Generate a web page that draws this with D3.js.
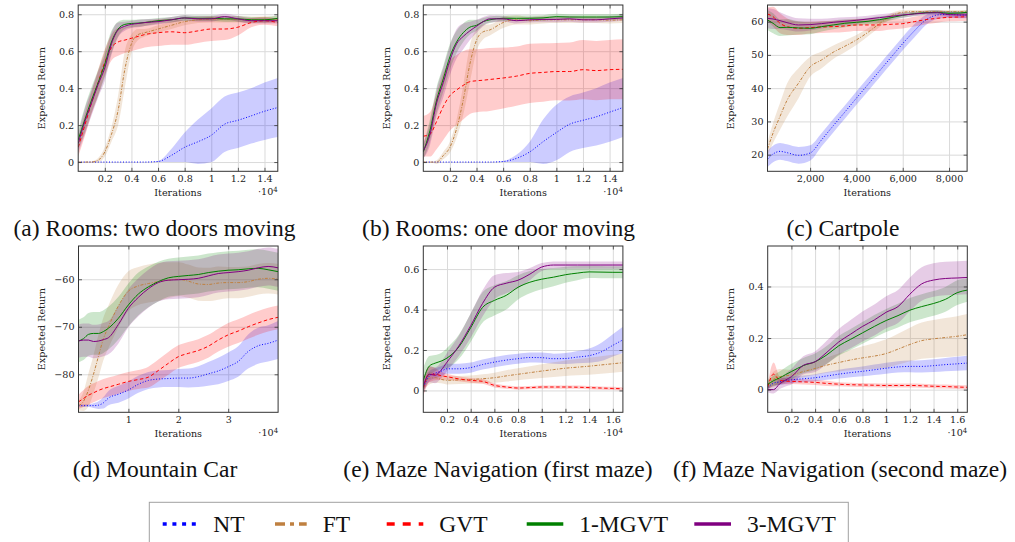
<!DOCTYPE html>
<html>
<head>
<meta charset="utf-8">
<script src="https://cdn.jsdelivr.net/npm/d3@7"></script>
<style>
body { margin: 0; background: #fff; }
svg { display: block; }
.tick text { font-family: "DejaVu Serif", serif; font-size: 9.6px; fill: #222; }
</style>
</head>
<body>
<svg id="chart" width="1015" height="542"></svg>
<script>
// series shared by all panels
const seriesNames = ['NT', 'FT', 'GVT', '1-MGVT', '3-MGVT'];

// (a) and (b): x in units of 1e4 iterations
const roomsX = [0, 0.05, 0.1, 0.15, 0.2, 0.25, 0.3, 0.35, 0.4, 0.45, 0.5, 0.6, 0.7, 0.8, 0.9, 1.0, 1.1, 1.2, 1.3, 1.4, 1.5];

const aNT = [0,0,0,0,0,0,0,0,0,0,0,0.003,0.036,0.08,0.11,0.145,0.205,0.226,0.25,0.275,0.295];
const aNTsd = [0,0,0,0,0,0,0,0,0,0,0,0.003,0.035,0.08,0.12,0.145,0.15,0.15,0.15,0.155,0.16];
const aFT = [0,0,0,0.01,0.055,0.15,0.28,0.5,0.64,0.69,0.70,0.72,0.74,0.76,0.77,0.773,0.773,0.773,0.77,0.77,0.773];
const aFTsd = [0,0,0.004,0.012,0.025,0.04,0.08,0.1,0.05,0.03,0.02,0.02,0.02,0.02,0.018,0.018,0.018,0.018,0.018,0.018,0.018];
const aGVT = [0.08,0.2,0.32,0.43,0.54,0.62,0.65,0.66,0.67,0.68,0.69,0.70,0.705,0.70,0.71,0.72,0.72,0.73,0.755,0.765,0.755];
const aGVTsd = [0.05,0.06,0.06,0.07,0.07,0.07,0.075,0.07,0.07,0.07,0.07,0.072,0.07,0.065,0.065,0.065,0.06,0.045,0.025,0.022,0.02];
const a1M = [0.12,0.23,0.335,0.43,0.53,0.65,0.72,0.745,0.75,0.752,0.755,0.765,0.77,0.78,0.778,0.778,0.775,0.775,0.77,0.77,0.778];
const a1Msd = [0.05,0.07,0.07,0.07,0.07,0.06,0.04,0.025,0.02,0.02,0.018,0.015,0.015,0.015,0.015,0.015,0.015,0.015,0.015,0.015,0.015];
const a3M = [0.10,0.22,0.32,0.42,0.51,0.64,0.715,0.735,0.745,0.75,0.755,0.76,0.77,0.78,0.775,0.775,0.787,0.775,0.765,0.765,0.765];
const a3Msd = [0.05,0.07,0.07,0.07,0.07,0.06,0.04,0.025,0.02,0.02,0.018,0.015,0.015,0.015,0.015,0.015,0.015,0.015,0.015,0.015,0.015];

const bNT = [0,0,0,0,0,0,0,0,0,0,0,0.003,0.02,0.055,0.11,0.16,0.205,0.226,0.245,0.27,0.295];
const bNTsd = [0,0,0,0,0,0,0,0,0,0,0,0.003,0.02,0.055,0.12,0.15,0.15,0.15,0.155,0.16,0.16];
const bFT = [0,0,0,0.035,0.08,0.18,0.335,0.53,0.66,0.705,0.715,0.755,0.77,0.765,0.77,0.77,0.77,0.77,0.77,0.768,0.77];
const bFTsd = [0,0,0.01,0.02,0.03,0.05,0.08,0.1,0.06,0.04,0.03,0.03,0.025,0.02,0.02,0.018,0.018,0.018,0.018,0.018,0.018];
const bGVT = [0.14,0.15,0.22,0.3,0.36,0.39,0.415,0.435,0.44,0.443,0.447,0.455,0.465,0.48,0.485,0.49,0.49,0.5,0.495,0.5,0.502];
const bGVTsd = [0.11,0.12,0.15,0.18,0.19,0.19,0.185,0.175,0.17,0.17,0.17,0.165,0.16,0.16,0.158,0.155,0.157,0.16,0.16,0.16,0.162];
const b1M = [0.055,0.17,0.335,0.45,0.57,0.65,0.70,0.73,0.74,0.76,0.77,0.778,0.778,0.778,0.78,0.787,0.785,0.785,0.785,0.785,0.787];
const b1Msd = [0.04,0.06,0.07,0.07,0.07,0.06,0.05,0.04,0.03,0.02,0.018,0.015,0.015,0.015,0.015,0.015,0.015,0.015,0.015,0.015,0.015];
const b3M = [0.06,0.15,0.32,0.43,0.55,0.64,0.68,0.71,0.735,0.76,0.775,0.775,0.765,0.77,0.772,0.772,0.775,0.77,0.77,0.775,0.78];
const b3Msd = [0.04,0.06,0.07,0.08,0.08,0.08,0.07,0.05,0.035,0.025,0.02,0.015,0.015,0.015,0.015,0.015,0.015,0.015,0.015,0.015,0.015];

// (c) Cartpole: raw iterations
const cartX = [160, 400, 700, 1000, 1500, 2000, 2500, 3000, 3500, 4000, 4500, 5000, 5500, 6000, 6500, 7000, 7500, 8000, 8500, 8780];
const cNT = [18.7,20.2,21.0,20.6,19.8,20.5,24.5,28.7,32.8,37.0,41.1,45.2,49.3,53.4,57.2,60.5,62.0,62.2,62.0,62.0];
const cNTsd = [2.5,2.5,2.5,2.5,2.5,2.3,2,2,2,2,2,2,2,2,2,1.5,1.2,1,1,1];
const cFT = [21.7,26.5,31.5,36.3,41.5,46.4,48.5,50.8,52.6,54.5,56.8,59.4,61.7,62.8,63.0,63.0,63.0,63.0,63.0,63.0];
const cFTsd = [2,3,4,5,4.5,3,2.5,2,1.8,1.5,1.2,1,0.8,0.6,0.5,0.5,0.5,0.5,0.5,0.5];
const cGVT = [62.3,61.5,59.5,58.5,58.0,58.2,58.4,58.5,58.7,59,59,59,59.2,59.4,60,60.6,61,61.3,61.4,61.5];
const cGVTsd = [2,3,3,2.5,2,1.8,1.8,1.8,1.8,1.8,1.8,1.8,1.6,1.5,1.5,1.4,1.3,1.2,1.2,1.2];
const c1M = [60.5,59.5,58.2,58.3,58.1,58,58.5,59,59.5,59.8,60.1,60.6,61.2,61.9,62.4,62.7,62.8,62.5,62.6,62.8];
const c1Msd = [3,3,2.5,2.5,2,1.8,1.5,1.3,1.2,1,1,1,0.8,0.7,0.6,0.6,0.6,0.6,0.6,0.6];
const c3M = [61,60.8,60.3,59.7,59,59.1,59.4,59.8,60.1,60.4,60.8,61.2,61.6,62,62.3,62.6,62.7,62.1,62,62];
const c3Msd = [3,3,2.5,2.2,2,1.8,1.5,1.3,1.2,1.1,1,1,0.9,0.8,0.7,0.7,0.7,0.8,0.9,0.9];

// (d) Mountain Car: x in units of 1e4
const mcarX = [0, 0.1, 0.2, 0.3, 0.4, 0.5, 0.6, 0.8, 1.0, 1.2, 1.4, 1.6, 1.8, 2.0, 2.2, 2.4, 2.6, 2.8, 3.0, 3.2, 3.4, 3.6, 3.8, 4.0];
const dNT = [-86.6,-86.6,-86.6,-86.6,-86.5,-86,-85,-84.2,-83.3,-82.1,-81.3,-81,-80.9,-80.8,-80.8,-80.5,-79.9,-79.3,-78.4,-77.3,-75.2,-74,-73.5,-72.8];
const dNTsd = [0.3,0.3,0.3,0.5,0.8,1.2,1.5,1.8,1.8,1.8,1.8,1.8,1.8,1.9,2,2.2,2.5,2.8,3,3.2,3.6,3.8,3.8,4];
const dFT = [-86.6,-85.7,-83.3,-80,-76.2,-72.5,-70,-65.6,-62.5,-61.4,-60.9,-60.5,-60.2,-60,-60.4,-61,-61.1,-60.8,-60.7,-60.7,-60.5,-60,-59.8,-60];
const dFTsd = [1,2,3.5,4,4.5,4.5,4.5,4.5,4.2,4,4,4,3.8,3.6,3.5,3.5,3.5,3.5,3.3,3.3,3.2,3.2,3.2,3.2];
const dGVT = [-85.8,-85.1,-84.4,-83.9,-83.4,-83,-82.7,-82.1,-81.5,-81.1,-80.6,-79.2,-77.7,-76.3,-75.6,-75,-74.1,-72.8,-71.7,-70.9,-70,-69.2,-68.5,-68];
const dGVTsd = [1.5,1.8,2,2,2,2,2,2,2,2,2.2,2.3,2.4,2.4,2.4,2.4,2.4,2.4,2.5,2.5,2.5,2.5,2.5,2.5];
const d1M = [-73,-72.5,-71.6,-71.4,-71.4,-71,-70.3,-68.2,-65.4,-63.1,-61.6,-60.5,-59.7,-59.4,-59.2,-59,-58.6,-58.3,-58.1,-58,-57.8,-57.7,-58,-58.4];
const d1Msd = [4.5,4.5,4.5,4.5,4.5,4.5,4.5,4.5,4.5,4.5,4.3,4.2,4,4,4,4,4,4,4,4,4,4,4,4];
const d3M = [-73,-72.8,-72.8,-73.1,-73,-72.7,-72.3,-69.5,-66.1,-63.8,-62,-60.7,-60.2,-60.1,-60,-59.8,-59.3,-58.8,-58.6,-58.4,-58.1,-57.6,-57.3,-57.6];
const d3Msd = [3.5,3.5,3.5,3.5,3.5,3.5,3.5,4,4,4,4,4,4,4,4,4,4,4,4,4,4,4,4,4];

// (e) and (f): x in units of 1e4
const mazeX = [0, 0.05, 0.1, 0.15, 0.2, 0.3, 0.4, 0.5, 0.6, 0.7, 0.8, 0.9, 1.0, 1.1, 1.2, 1.3, 1.4, 1.5, 1.6, 1.685];
const eNT = [0.017,0.07,0.085,0.095,0.107,0.107,0.113,0.128,0.14,0.15,0.157,0.163,0.162,0.157,0.158,0.165,0.172,0.19,0.223,0.25];
const eNTsd = [0.02,0.025,0.025,0.025,0.025,0.025,0.025,0.025,0.025,0.025,0.025,0.025,0.025,0.025,0.027,0.03,0.035,0.045,0.055,0.065];
const eFT = [0.03,0.06,0.063,0.055,0.05,0.052,0.054,0.058,0.063,0.072,0.08,0.088,0.096,0.103,0.11,0.115,0.12,0.126,0.132,0.137];
const eFTsd = [0.03,0.03,0.025,0.02,0.02,0.02,0.02,0.022,0.025,0.028,0.03,0.032,0.034,0.036,0.038,0.04,0.042,0.043,0.044,0.045];
const eGVT = [0.01,0.08,0.08,0.073,0.068,0.057,0.05,0.045,0.025,0.017,0.012,0.014,0.017,0.017,0.017,0.016,0.014,0.012,0.01,0.008];
const eGVTsd = [0.04,0.04,0.03,0.02,0.015,0.012,0.012,0.012,0.01,0.008,0.008,0.008,0.008,0.008,0.008,0.008,0.008,0.008,0.008,0.008];
const e1M = [0.05,0.12,0.135,0.145,0.16,0.215,0.31,0.41,0.445,0.47,0.51,0.535,0.55,0.56,0.572,0.58,0.586,0.585,0.584,0.584];
const e1Msd = [0.06,0.05,0.04,0.04,0.05,0.06,0.07,0.075,0.075,0.07,0.06,0.055,0.05,0.045,0.04,0.035,0.03,0.03,0.03,0.03];
const e3M = [0.02,0.08,0.075,0.1,0.14,0.22,0.32,0.43,0.51,0.53,0.545,0.575,0.61,0.62,0.62,0.62,0.62,0.62,0.62,0.62];
const e3Msd = [0.04,0.04,0.04,0.04,0.045,0.05,0.06,0.065,0.06,0.05,0.04,0.03,0.02,0.018,0.018,0.018,0.018,0.018,0.018,0.018];

const fNT = [0.008,0.025,0.03,0.035,0.038,0.042,0.046,0.053,0.06,0.066,0.071,0.077,0.083,0.088,0.09,0.09,0.093,0.097,0.1,0.103];
const fNTsd = [0.008,0.01,0.012,0.012,0.012,0.013,0.014,0.015,0.017,0.018,0.019,0.02,0.021,0.022,0.023,0.024,0.025,0.026,0.027,0.028];
const fFT = [0.02,0.04,0.05,0.053,0.057,0.07,0.082,0.095,0.105,0.115,0.123,0.13,0.14,0.157,0.175,0.19,0.197,0.202,0.207,0.213];
const fFTsd = [0.015,0.03,0.03,0.025,0.02,0.022,0.025,0.03,0.035,0.04,0.045,0.05,0.055,0.06,0.065,0.07,0.073,0.076,0.078,0.08];
const fGVT = [0.01,0.06,0.036,0.033,0.032,0.03,0.028,0.024,0.021,0.019,0.018,0.017,0.016,0.016,0.016,0.015,0.013,0.012,0.01,0.009];
const fGVTsd = [0.01,0.045,0.015,0.012,0.01,0.01,0.01,0.01,0.008,0.008,0.008,0.008,0.008,0.008,0.008,0.008,0.008,0.008,0.008,0.008];
const f1M = [0.02,0.035,0.045,0.058,0.07,0.093,0.108,0.135,0.17,0.195,0.22,0.245,0.268,0.287,0.308,0.322,0.334,0.35,0.376,0.386];
const f1Msd = [0.015,0.02,0.025,0.028,0.03,0.03,0.032,0.035,0.038,0.04,0.042,0.044,0.045,0.046,0.047,0.048,0.048,0.048,0.048,0.045];
const f3M = [0,0,0.022,0.037,0.05,0.094,0.108,0.145,0.185,0.215,0.245,0.27,0.3,0.322,0.37,0.41,0.425,0.431,0.433,0.435];
const f3Msd = [0.01,0.015,0.02,0.025,0.03,0.035,0.04,0.045,0.05,0.055,0.058,0.06,0.062,0.064,0.065,0.065,0.065,0.065,0.065,0.065];

// tick values and labels
const roomsXTicks = [0.2, 0.4, 0.6, 0.8, 1, 1.2, 1.4];
const roomsXLabels = ['0.2', '0.4', '0.6', '0.8', '1', '1.2', '1.4'];
const roomsYTicks = [0, 0.2, 0.4, 0.6, 0.8];
const roomsYLabels = ['0', '0.2', '0.4', '0.6', '0.8'];
const cartXTicks = [2000, 4000, 6000, 8000];
const cartXLabels = ['2,000', '4,000', '6,000', '8,000'];
const cartYTicks = [20, 30, 40, 50, 60];
const cartYLabels = ['20', '30', '40', '50', '60'];
const mcarXTicks = [1, 2, 3];
const mcarXLabels = ['1', '2', '3'];
const mcarYTicks = [-80, -70, -60];
const mcarYLabels = ['\u221280', '\u221270', '\u221260'];
const mazeXTicks = [0.2, 0.4, 0.6, 0.8, 1, 1.2, 1.4, 1.6];
const mazeXLabels = ['0.2', '0.4', '0.6', '0.8', '1', '1.2', '1.4', '1.6'];
const maze1YTicks = [0, 0.2, 0.4, 0.6];
const maze1YLabels = ['0', '0.2', '0.4', '0.6'];
const maze2YTicks = [0, 0.2, 0.4];
const maze2YLabels = ['0', '0.2', '0.4'];

const captions = ['(a) Rooms: two doors moving', '(b) Rooms: one door moving', '(c) Cartpole',
    '(d) Mountain Car', '(e) Maze Navigation (first maze)', '(f) Maze Navigation (second maze)'];

// look of the series
const colors = ['#0000ff', '#bf8040', '#ff0000', '#008000', '#800080'];
const plotDash = ['1,1.8', '3,1.5,1,1.5', '3.5,2.5', null, null];
const legendDash = ['4,5.7', '10,5,4,5', '8,8', null, null];

const svg = d3.select('#chart');
const plotW = 199.6, plotH = 166.3;

const panels = [
    { left: 78.2, top: 5, x: roomsX, m: [aNT, aFT, aGVT, a1M, a3M], sd: [aNTsd, aFTsd, aGVTsd, a1Msd, a3Msd],
      xDom: [0, 1.5], yDom: [-0.05, 0.85], xt: roomsXTicks, xl: roomsXLabels, yt: roomsYTicks, yl: roomsYLabels, exp: true, capX: 154.5 },
    { left: 423.3, top: 5, x: roomsX, m: [bNT, bFT, bGVT, b1M, b3M], sd: [bNTsd, bFTsd, bGVTsd, b1Msd, b3Msd],
      xDom: [0, 1.5], yDom: [-0.05, 0.85], xt: roomsXTicks, xl: roomsXLabels, yt: roomsYTicks, yl: roomsYLabels, exp: true, capX: 498.5 },
    { left: 767.5, top: 5, x: cartX, m: [cNT, cFT, cGVT, c1M, c3M], sd: [cNTsd, cFTsd, cGVTsd, c1Msd, c3Msd],
      xDom: [160, 8780], yDom: [15, 65], xt: cartXTicks, xl: cartXLabels, yt: cartYTicks, yl: cartYLabels, exp: false, capX: 843 },
    { left: 78.5, top: 246, x: mcarX, m: [dNT, dFT, dGVT, d1M, d3M], sd: [dNTsd, dFTsd, dGVTsd, d1Msd, d3Msd],
      xDom: [0, 4], yDom: [-88, -53], xt: mcarXTicks, xl: mcarXLabels, yt: mcarYTicks, yl: mcarYLabels, exp: true, capX: 155 },
    { left: 423.3, top: 246, x: mazeX, m: [eNT, eFT, eGVT, e1M, e3M], sd: [eNTsd, eFTsd, eGVTsd, e1Msd, e3Msd],
      xDom: [0, 1.685], yDom: [-0.108, 0.714], xt: mazeXTicks, xl: mazeXLabels, yt: maze1YTicks, yl: maze1YLabels, exp: true, capX: 498 },
    { left: 767.7, top: 246, x: mazeX, m: [fNT, fFT, fGVT, f1M, f3M], sd: [fNTsd, fFTsd, fGVTsd, f1Msd, f3Msd],
      xDom: [0, 1.685], yDom: [-0.088, 0.557], xt: mazeXTicks, xl: mazeXLabels, yt: maze2YTicks, yl: maze2YLabels, exp: true, capX: 840 }
];

const serif = '"Liberation Serif", "Times New Roman", serif';
const smallSerif = '"DejaVu Serif", serif';

panels.forEach(function (p, pi) {
    const x = d3.scaleLinear().domain(p.xDom).range([0, plotW]);
    const y = d3.scaleLinear().domain(p.yDom).range([plotH, 0]);
    const g = svg.append('g').attr('transform', 'translate(' + p.left + ',' + p.top + ')');

    g.append('clipPath').attr('id', 'clip' + pi)
        .append('rect').attr('width', plotW).attr('height', plotH);

    // grid
    g.append('g').attr('class', 'grid')
        .attr('transform', 'translate(0,' + plotH + ')')
        .call(d3.axisBottom(x).tickValues(p.xt).tickSize(-plotH).tickFormat(''))
        .call(s => s.select('.domain').remove())
        .selectAll('line').attr('stroke', '#dadada').attr('stroke-width', 1);
    g.append('g').attr('class', 'grid')
        .call(d3.axisLeft(y).tickValues(p.yt).tickSize(-plotW).tickFormat(''))
        .call(s => s.select('.domain').remove())
        .selectAll('line').attr('stroke', '#dadada').attr('stroke-width', 1);

    const plot = g.append('g').attr('clip-path', 'url(#clip' + pi + ')');

    // bands first, then mean lines
    seriesNames.forEach(function (name, si) {
        const m = p.m[si], sd = p.sd[si];
        const area = d3.area()
            .x((d, i) => x(p.x[i]))
            .y0((d, i) => y(d - sd[i]))
            .y1((d, i) => y(d + sd[i]))
            .curve(d3.curveMonotoneX);
        plot.append('path').datum(m)
            .attr('d', area)
            .attr('fill', colors[si])
            .attr('fill-opacity', 0.2);
    });
    seriesNames.forEach(function (name, si) {
        const line = d3.line()
            .x((d, i) => x(p.x[i]))
            .y(d => y(d))
            .curve(d3.curveMonotoneX);
        plot.append('path').datum(p.m[si])
            .attr('d', line)
            .attr('fill', 'none')
            .attr('stroke', colors[si])
            .attr('stroke-width', 1)
            .attr('stroke-dasharray', plotDash[si]);
    });

    // axes with inward ticks
    g.append('g')
        .attr('transform', 'translate(0,' + plotH + ')')
        .call(d3.axisBottom(x).tickValues(p.xt).tickFormat((d, i) => p.xl[i]).tickSize(-3.5).tickPadding(3.5))
        .call(s => s.select('.domain').remove());
    g.append('g')
        .call(d3.axisLeft(y).tickValues(p.yt).tickFormat((d, i) => p.yl[i]).tickSize(-3.5).tickPadding(4))
        .call(s => s.select('.domain').remove());
    g.append('g')
        .call(d3.axisTop(x).tickValues(p.xt).tickFormat('').tickSize(-3.5))
        .call(s => s.select('.domain').remove());
    g.append('g')
        .attr('transform', 'translate(' + plotW + ',0)')
        .call(d3.axisRight(y).tickValues(p.yt).tickFormat('').tickSize(-3.5))
        .call(s => s.select('.domain').remove());
    g.selectAll('.tick line').filter(function () { return !this.closest('.grid'); })
        .attr('stroke', '#333').attr('stroke-width', 0.8);

    g.append('rect')
        .attr('width', plotW).attr('height', plotH)
        .attr('fill', 'none').attr('stroke', '#333').attr('stroke-width', 1);

    // axis labels
    g.append('text')
        .attr('transform', 'translate(-33.5,' + (plotH / 2) + ') rotate(-90)')
        .attr('text-anchor', 'middle')
        .style('font-family', smallSerif).style('font-size', '9.6px').attr('fill', '#222')
        .text('Expected Return');
    g.append('text')
        .attr('x', plotW / 2).attr('y', plotH + 24.5)
        .attr('text-anchor', 'middle')
        .style('font-family', smallSerif).style('font-size', '9.6px').attr('fill', '#222')
        .text('Iterations');
    if (p.exp) {
        const t = g.append('text')
            .attr('x', plotW).attr('y', plotH + 24)
            .attr('text-anchor', 'end')
            .style('font-family', smallSerif).style('font-size', '9.6px').attr('fill', '#222');
        t.append('tspan').text('\u00b710');
        t.append('tspan').attr('dy', -3.5).style('font-size', '7px').text('4');
    }

    // caption
    svg.append('text')
        .attr('x', p.capX).attr('y', p.top + 230.5)
        .attr('text-anchor', 'middle')
        .style('font-family', serif).style('font-size', '23.5px').attr('fill', '#111')
        .text(captions[pi]);
});

// legend
const legendX = [162.7, 275, 386.7, 526.7, 694.3];
const legendLen = [34.6, 31.7, 36.6, 36.6, 36.7];
const legend = svg.append('g');
legend.append('rect')
    .attr('x', 149.3).attr('y', 502.3).attr('width', 699).attr('height', 60)
    .attr('fill', '#fff').attr('stroke', '#a0a0a0').attr('stroke-width', 1);
seriesNames.forEach(function (name, si) {
    legend.append('line')
        .attr('x1', legendX[si]).attr('x2', legendX[si] + legendLen[si])
        .attr('y1', 524).attr('y2', 524)
        .attr('stroke', colors[si]).attr('stroke-width', 3.6)
        .attr('stroke-dasharray', legendDash[si]);
    legend.append('text')
        .attr('x', legendX[si] + legendLen[si] + 16).attr('y', 532)
        .style('font-family', serif).style('font-size', '23.5px').attr('fill', '#111')
        .text(name);
});
</script>
</body>
</html>
